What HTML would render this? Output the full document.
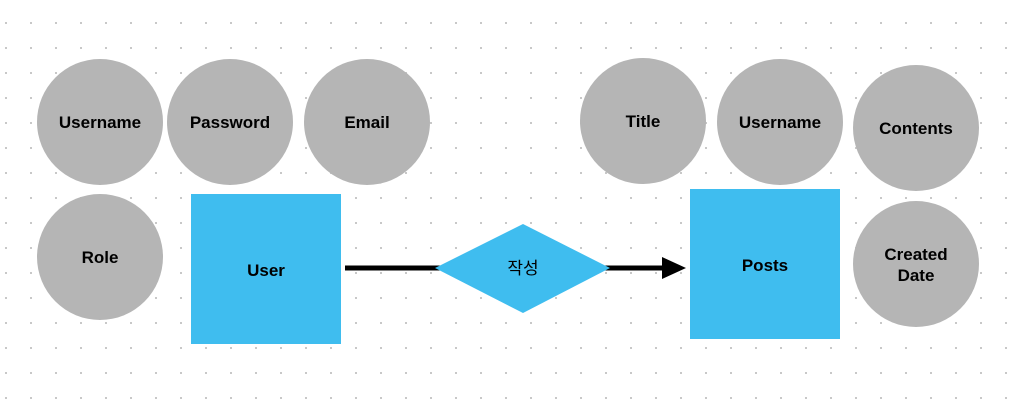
<!DOCTYPE html>
<html><head><meta charset="utf-8"><style>
body{margin:0;width:1022px;height:403px;overflow:hidden;background:#fff;}
</style></head><body>
<svg width="1022" height="403" xmlns="http://www.w3.org/2000/svg" font-family="Liberation Sans, Noto Sans CJK KR, sans-serif" font-weight="bold" font-size="17">
<defs><pattern id="g" x="5" y="22" width="25" height="25" patternUnits="userSpaceOnUse"><rect x="0" y="0" width="2" height="2" fill="#c8c8c8"/></pattern></defs>
<rect width="1022" height="403" fill="url(#g)"/>
<g fill="#b5b5b5">
<circle cx="100" cy="122" r="63"/><circle cx="230" cy="122" r="63"/><circle cx="367" cy="122" r="63"/>
<circle cx="100" cy="257" r="63"/><circle cx="643" cy="121" r="63"/><circle cx="780" cy="122" r="63"/>
<circle cx="916" cy="128" r="63"/><circle cx="916" cy="264" r="63"/>
</g>
<rect x="191" y="194" width="150" height="150" fill="#3fbdef"/>
<rect x="690" y="189" width="150" height="150" fill="#3fbdef"/>
<line x1="345" y1="268" x2="664" y2="268" stroke="#000" stroke-width="5"/>
<polygon points="662,257 686,268 662,279" fill="#000"/>
<polygon points="523,224 610,268 523,313 435,268" fill="#3fbdef"/>
<g text-anchor="middle" fill="#000">
<text x="100" y="128">Username</text><text x="230" y="128">Password</text><text x="367" y="128">Email</text>
<text x="100" y="263">Role</text><text x="643" y="127">Title</text><text x="780" y="128">Username</text>
<text x="916" y="134">Contents</text><text x="916" y="260">Created</text><text x="916" y="281">Date</text>
<text x="266" y="276">User</text><text x="765" y="271">Posts</text><text x="523" y="274" font-weight="normal">작성</text>
</g>
</svg>
</body></html>
